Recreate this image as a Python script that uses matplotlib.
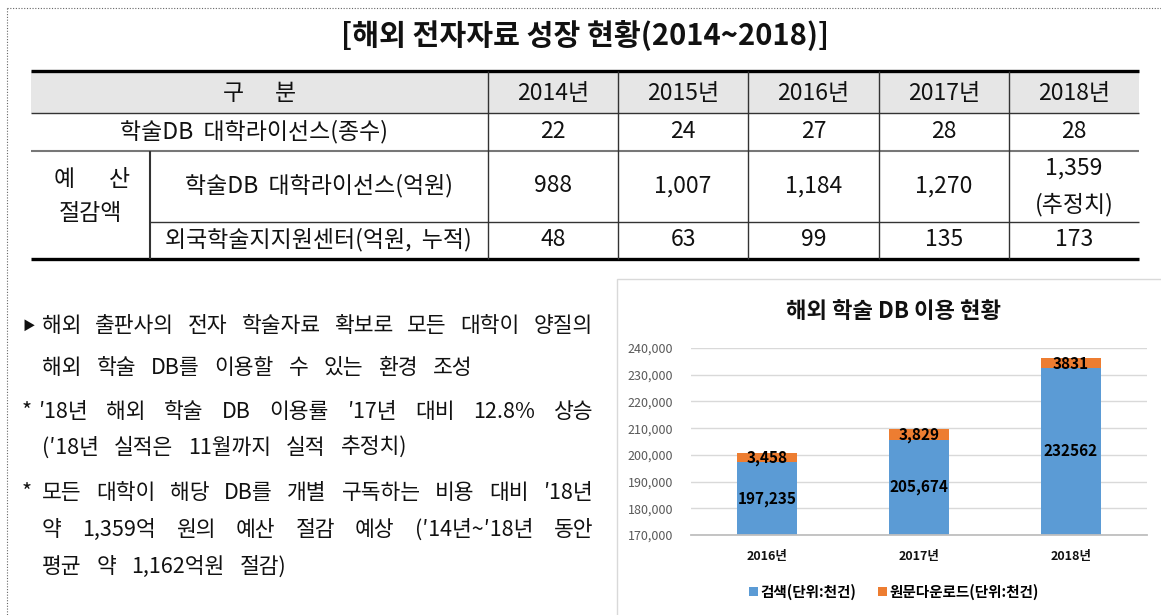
import matplotlib
matplotlib.use('Agg')
import matplotlib.pyplot as plt
from matplotlib.patches import Rectangle
import numpy as np

plt.rcParams['font.family'] = ['Noto Sans CJK KR', 'DejaVu Sans']

W, H = 1161, 615

# 표 데이터
years = ['2014년', '2015년', '2016년', '2017년', '2018년']
license_count = [22, 24, 27, 28, 28]
license_saving = [988, 1007, 1184, 1270, 1359]
saving_note = ['', '', '', '', '(추정치)']
center_saving = [48, 63, 99, 135, 173]

# 차트 데이터
chart_years = ['2016년', '2017년', '2018년']
search = [197235, 205674, 232562]
download = [3458, 3829, 3831]
search_labels = ['197,235', '205,674', '232562']
download_labels = ['3,458', '3,829', '3831']
legend_labels = ['검색(단위:천건)', '원문다운로드(단위:천건)']

# 본문 (기호, 문장, 양쪽정렬 여부)
notes = [
    ('▶', '해외 출판사의 전자 학술자료 확보로 모든 대학이 양질의', True),
    ('', '해외 학술 DB를 이용할 수 있는 환경 조성', False),
    ('*', '′18년 해외 학술 DB 이용률 ′17년 대비 12.8% 상승', True),
    ('', '(′18년 실적은 11월까지 실적 추정치)', False),
    ('*', '모든 대학이 해당 DB를 개별 구독하는 비용 대비 ′18년', True),
    ('', '약 1,359억 원의 예산 절감 예상 (′14년~′18년 동안', True),
    ('', '평균 약 1,162억원 절감)', False),
]
note_y = [326, 368, 412, 448, 493, 530, 567]

fig = plt.figure(figsize=(W / 100, H / 100), dpi=100)
bg = fig.add_axes([0, 0, 1, 1])
bg.set_xlim(0, W)
bg.set_ylim(H, 0)
bg.axis('off')
renderer = fig.canvas.get_renderer()

# 점선 테두리
bg.plot([7, W], [8, 8], ls=(0, (1, 1.5)), color='#666666', lw=0.8)
bg.plot([7, 7], [8, H], ls=(0, (1, 1.5)), color='#666666', lw=0.8)

# 제목
bg.text(585, 36, '[해외 전자자료 성장 현황(2014~2018)]', fontsize=21,
        fontweight='bold', ha='center', va='center', color='#111111')

# 표
col_x = [31, 488, 618, 748, 879, 1009, 1139]
row_y = [71, 113, 151, 222, 259]
bg.add_patch(Rectangle((col_x[0], row_y[0]), col_x[-1] - col_x[0], row_y[1] - row_y[0],
                       facecolor='#e6e6e6', edgecolor='none'))
bg.hlines([row_y[0], row_y[-1]], col_x[0], col_x[-1], color='black', lw=2.4)
bg.hlines(row_y[1], col_x[0], col_x[-1], color='#333333', lw=1)
bg.hlines(row_y[2], col_x[0], col_x[-1], color='#777777', lw=1.5)
bg.hlines(row_y[3], 150, col_x[-1], color='#333333', lw=1)
bg.vlines(col_x[1:-1], row_y[0], row_y[-1], color='#333333', lw=1)
bg.vlines(150, row_y[2], row_y[-1], color='#333333', lw=1.5)

fs = 16.5
tc = '#111111'
bg.text(233, 93, '구', fontsize=fs, ha='center', va='center', color=tc)
bg.text(285, 93, '분', fontsize=fs, ha='center', va='center', color=tc)
bg.text(254, 132, '학술DB  대학라이선스(종수)', fontsize=fs, ha='center', va='center', color=tc)
bg.text(64, 180, '예', fontsize=fs, ha='center', va='center', color=tc)
bg.text(119, 180, '산', fontsize=fs, ha='center', va='center', color=tc)
bg.text(90, 213, '절감액', fontsize=fs, ha='center', va='center', color=tc)
bg.text(319, 186, '학술DB  대학라이선스(억원)', fontsize=fs, ha='center', va='center', color=tc)
bg.text(318, 240, '외국학술지지원센터(억원,  누적)', fontsize=fs, ha='center', va='center', color=tc)
for i, yr in enumerate(years):
    cx = (col_x[i + 1] + col_x[i + 2]) / 2
    bg.text(cx, 93, yr, fontsize=fs, ha='center', va='center', color=tc)
    bg.text(cx, 132, f'{license_count[i]}', fontsize=fs, ha='center', va='center', color=tc)
    if saving_note[i]:
        bg.text(cx, 168, f'{license_saving[i]:,}', fontsize=fs, ha='center', va='center', color=tc)
        bg.text(cx, 205, saving_note[i], fontsize=fs, ha='center', va='center', color=tc)
    else:
        bg.text(cx, 186, f'{license_saving[i]:,}', fontsize=fs, ha='center', va='center', color=tc)
    bg.text(cx, 240, f'{center_saving[i]}', fontsize=fs, ha='center', va='center', color=tc)


def put_line(words, x0, y, x1=None, gap=15, size=15.5):
    texts = [bg.text(0, y, w, fontsize=size, ha='left', va='center', color=tc) for w in words]
    widths = [t.get_window_extent(renderer).width for t in texts]
    if x1 is not None and len(words) > 1:
        gap = (x1 - x0 - sum(widths)) / (len(words) - 1)
    x = x0
    for t, w in zip(texts, widths):
        t.set_x(x)
        x += w + gap


for (mark, line, just), y in zip(notes, note_y):
    if mark == '▶':
        bg.text(22, y, mark, fontsize=9, ha='left', va='center', color=tc)
    elif mark == '*':
        bg.text(22, y, mark, fontsize=15.5, ha='left', va='center', color=tc)
    x0 = 38 if line.startswith('′') else 42
    put_line(line.split(' '), x0, y, 593 if just else None)

# 차트 영역
bg.add_patch(Rectangle((617, 279), 620, 400, facecolor='white', edgecolor='#d9d9d9', lw=1))
bg.text(893, 312, '해외 학술 DB 이용 현황', fontsize=16, fontweight='bold',
        ha='center', va='center', color='#111111')

ax = fig.add_axes([691 / W, 1 - 535 / H, 456 / W, 187 / H])
ax.patch.set_alpha(0)
x = np.arange(len(chart_years))
ax.bar(x, search, width=0.4, color='#5B9BD5', label=legend_labels[0])
ax.bar(x, download, width=0.4, bottom=search, color='#ED7D31', label=legend_labels[1])
ax.set_ylim(170000, 240000)
ax.set_xlim(-0.5, 2.5)
ax.set_yticks(np.arange(170000, 240001, 10000))
ax.set_yticklabels([f'{v:,}' for v in range(170000, 240001, 10000)], fontsize=9, color='#595959')
ax.set_xticks(x)
ax.set_xticklabels(chart_years, fontsize=9, fontweight='bold', color='#111111')
ax.tick_params(axis='y', length=0, pad=13)
ax.tick_params(axis='x', length=0, pad=11)
ax.yaxis.grid(True, color='#d9d9d9', lw=1)
ax.set_axisbelow(True)
for s in ['top', 'right', 'left']:
    ax.spines[s].set_visible(False)
ax.spines['bottom'].set_color('#bfbfbf')
ax.spines['bottom'].set_linewidth(1.3)

for i in range(len(x)):
    ax.text(x[i], (170000 + search[i]) / 2, search_labels[i], fontsize=11, fontweight='bold',
            ha='center', va='center', color='black')
    ax.text(x[i], search[i] + download[i] / 2 - 300, download_labels[i], fontsize=11, fontweight='bold',
            ha='center', va='center', color='black')

ax.legend(loc='center', bbox_to_anchor=(894 / W, 1 - 592 / H), bbox_transform=fig.transFigure,
          ncol=2, frameon=False, handlelength=0.6, handleheight=0.6, handletextpad=0.2,
          columnspacing=1.5, prop={'weight': 'bold', 'size': 10.5})

fig.savefig('out.png', dpi=100)
